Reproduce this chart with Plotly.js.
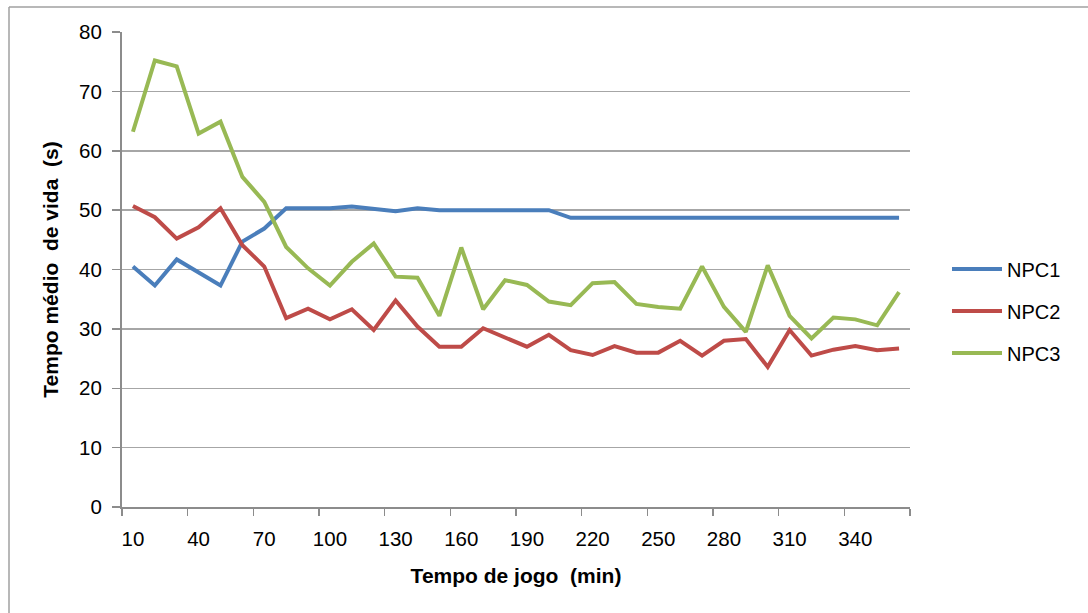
<!DOCTYPE html>
<html>
<head>
<meta charset="utf-8">
<script src="https://cdn.plot.ly/plotly-3.0.1.min.js"></script>
<style>
html,body{margin:0;padding:0;background:#fff;}
#chart{width:1088px;height:613px;}
</style>
</head>
<body>
<div id="chart"></div>
<script>
const gameTime = [10,20,30,40,50,60,70,80,90,100,110,120,130,140,150,160,170,180,190,200,210,220,230,240,250,260,270,280,290,300,310,320,330,340,350,360];
const npc1 = [40.5,37.3,41.7,39.5,37.3,44.7,46.9,50.3,50.3,50.3,50.6,50.2,49.8,50.3,50.0,50.0,50.0,50.0,50.0,50.0,48.7,48.7,48.7,48.7,48.7,48.7,48.7,48.7,48.7,48.7,48.7,48.7,48.7,48.7,48.7,48.7];
const npc2 = [50.7,48.8,45.2,47.1,50.3,44.1,40.5,31.8,33.4,31.6,33.3,29.8,34.8,30.4,27.0,27.0,30.1,28.6,27.0,29.0,26.4,25.6,27.1,26.0,26.0,28.0,25.5,28.0,28.3,23.6,29.8,25.5,26.5,27.1,26.4,26.7];
const npc3 = [63.2,75.2,74.2,62.9,64.9,55.6,51.4,43.8,40.2,37.3,41.3,44.4,38.8,38.6,32.2,43.7,33.3,38.2,37.4,34.6,34.0,37.7,37.9,34.2,33.7,33.4,40.5,33.7,29.5,40.7,32.2,28.4,31.9,31.6,30.6,36.2];
const seriesNames = ['NPC1','NPC2','NPC3'];
const tickLabels = [10,40,70,100,130,160,190,220,250,280,310,340];

const colors = ['#4A7EBB','#BE4B48','#98B954'];
const data = [npc1,npc2,npc3].map((ys,k)=>({
  x: gameTime, y: ys, type:'scatter', mode:'lines', name: seriesNames[k],
  legendgroup: 'g'+k,
  line:{color:colors[k], width:4}
}));

const L=122, R=910, T=32, B=507, W=1088, H=613;
const layout = {
  width:W, height:H,
  margin:{l:L, r:W-R, t:T, b:H-B, autoexpand:false},
  paper_bgcolor:'#fff', plot_bgcolor:'#fff',
  font:{family:'Liberation Sans, Arial, sans-serif', size:20, color:'#000'},
  showlegend:true,
  legend:{x:(947-L)/(R-L), xanchor:'left', y:(B-311)/(B-T), yanchor:'middle', tracegroupgap:13,
          itemwidth:50, font:{size:20}, bgcolor:'rgba(0,0,0,0)'},
  xaxis:{
    range:[5,365], tickmode:'array', tickvals:tickLabels, ticktext:tickLabels.map(String),
    ticks:'outside', ticklen:12, tickcolor:'rgba(0,0,0,0)',
    showgrid:false, zeroline:false, showline:true, linecolor:'#8c8c8c', linewidth:2,
    minor:{tickmode:'linear', tick0:5, dtick:30, ticks:'outside', ticklen:7, tickcolor:'#8c8c8c', tickwidth:1.5, showgrid:false},
    tickfont:{size:20.5},
    title:{text:'<b>Tempo de jogo  (min)</b>', font:{size:21}, standoff:20}
  },
  yaxis:{
    range:[0,80], dtick:10, tick0:0,
    ticks:'outside', ticklen:8, tickcolor:'#8c8c8c', tickwidth:1.5, ticklabelstandoff:6,
    showgrid:true, gridcolor:'#a6a6a6', gridwidth:1.5,
    zeroline:false, showline:true, linecolor:'#8c8c8c', linewidth:2,
    tickfont:{size:20.5},
    title:{text:'<b>Tempo médio  de vida  (s)</b>', font:{size:21}, standoff:15}
  },
  shapes:[
    {type:'line', xref:'paper', yref:'paper', x0:(9-L)/(R-L), x1:(W-L)/(R-L), y0:(B-7)/(B-T), y1:(B-7)/(B-T), line:{color:'#a0a0a0', width:1.5}},
    {type:'line', xref:'paper', yref:'paper', x0:(9-L)/(R-L), x1:(9-L)/(R-L), y0:(B-7)/(B-T), y1:(B-H)/(B-T), line:{color:'#a0a0a0', width:1.5}}
  ]
};
Plotly.newPlot('chart', data, layout, {displayModeBar:false, staticPlot:true});
</script>
</body>
</html>
